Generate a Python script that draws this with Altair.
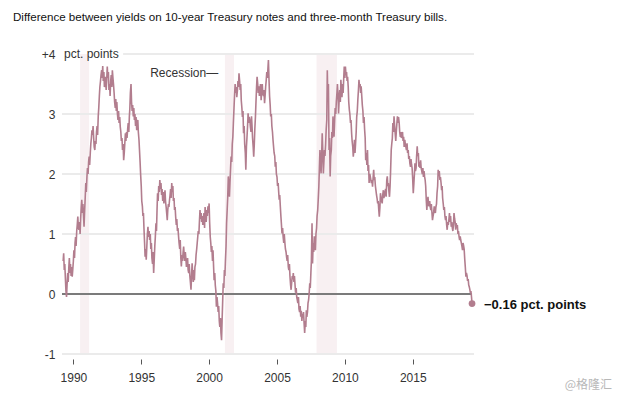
import altair as alt
import pandas as pd

# Spread (10-yr minus 3-month), semi-monthly readings (1st and 15th of each month)
y1989 = [0.55, 0.68, 0.40, 0.50, 0.25, 0.05, -0.05, 0.15, 0.35, 0.20, 0.45, 0.60, 0.35, 0.50, 0.30, 0.45, 0.29, 0.40]
y1990 = [0.55, 0.73, 0.60, 0.85, 0.95, 0.80, 1.05, 1.15, 1.29, 1.10, 1.07, 1.20, 1.00, 1.25, 1.45, 1.57, 1.35, 1.50, 1.30, 1.12, 1.40, 1.60, 1.85, 1.70]
y1991 = [1.95, 2.10, 2.00, 2.20, 2.29, 2.15, 2.35, 2.50, 2.60, 2.73, 2.65, 2.80, 2.60, 2.45, 2.40, 2.55, 2.50, 2.70, 2.80, 2.65, 2.96, 3.10, 3.30, 3.45]
y1992 = [3.55, 3.65, 3.73, 3.60, 3.80, 3.55, 3.70, 3.45, 3.50, 3.62, 3.40, 3.55, 3.79, 3.60, 3.70, 3.40, 3.50, 3.30, 3.55, 3.65, 3.45, 3.73, 3.60, 3.50]
y1993 = [3.35, 3.20, 3.10, 3.25, 3.05, 3.20, 3.00, 2.90, 3.05, 2.85, 2.95, 2.79, 2.70, 2.55, 2.60, 2.40, 2.50, 2.23, 2.35, 2.50, 2.68, 2.55, 2.70, 2.60]
y1994 = [2.75, 2.85, 2.70, 2.95, 3.10, 3.35, 3.50, 3.20, 3.05, 3.15, 2.96, 3.10, 2.90, 3.00, 2.80, 2.95, 2.73, 2.85, 2.90, 2.70, 2.57, 2.40, 2.20, 2.00]
y1995 = [1.80, 1.55, 1.46, 1.30, 1.35, 1.10, 0.85, 0.62, 0.75, 0.57, 0.80, 1.00, 1.12, 0.95, 1.05, 0.90, 1.00, 0.75, 0.85, 0.60, 0.50, 0.70, 0.35, 0.55]
y1996 = [0.80, 0.95, 1.18, 1.05, 1.40, 1.68, 1.55, 1.80, 1.70, 1.90, 1.75, 1.85, 1.65, 1.75, 1.55, 1.70, 1.51, 1.60, 1.73, 1.55, 1.45, 1.35, 1.23, 1.40]
y1997 = [1.50, 1.45, 1.57, 1.65, 1.75, 1.60, 1.85, 1.70, 1.80, 1.55, 1.60, 1.40, 1.45, 1.29, 1.15, 1.25, 1.05, 1.10, 0.96, 0.85, 0.75, 0.90, 0.60, 0.46]
y1998 = [0.65, 0.55, 0.70, 0.79, 0.65, 0.55, 0.70, 0.60, 0.45, 0.51, 0.60, 0.40, 0.35, 0.50, 0.30, 0.20, 0.07, 0.30, 0.51, 0.35, 0.20, 0.40, 0.23, 0.45]
y1999 = [0.50, 0.65, 0.75, 0.85, 0.95, 1.05, 1.00, 1.20, 1.40, 1.25, 1.35, 1.20, 1.30, 1.15, 1.25, 1.35, 1.10, 1.45, 1.30, 1.20, 1.40, 1.30, 1.46, 1.35]
y2000 = [1.51, 1.20, 0.95, 0.85, 0.70, 0.80, 0.55, 0.73, 0.45, 0.23, 0.35, 0.15, 0.05, -0.21, -0.05, -0.15, -0.30, -0.20, -0.45, -0.55, -0.40, -0.65, -0.77, -0.45]
y2001 = [-0.10, 0.18, 0.10, 0.40, 0.30, 0.55, 0.80, 1.18, 1.40, 1.60, 1.96, 1.80, 1.62, 1.85, 2.10, 2.29, 2.20, 2.50, 2.62, 2.85, 3.10, 3.30, 3.50, 3.35]
y2002 = [3.45, 3.28, 3.40, 3.55, 3.45, 3.68, 3.55, 3.40, 3.50, 3.23, 3.10, 2.95, 3.05, 2.68, 2.80, 2.50, 2.35, 2.07, 2.45, 2.60, 2.80, 3.01, 2.85, 2.95]
y2003 = [2.90, 2.79, 2.70, 2.96, 2.80, 2.60, 2.45, 2.29, 2.50, 2.75, 2.96, 3.20, 3.45, 3.62, 3.50, 3.35, 3.46, 3.30, 3.40, 3.50, 3.23, 3.40, 3.50, 3.35]
y2004 = [3.30, 3.40, 3.18, 3.30, 3.45, 3.55, 3.70, 3.60, 3.75, 3.90, 3.55, 3.30, 3.15, 2.96, 3.00, 2.80, 2.70, 2.57, 2.45, 2.35, 2.30, 2.12, 2.20, 2.00]
y2005 = [1.95, 1.80, 1.85, 1.70, 1.57, 1.65, 1.45, 1.30, 1.15, 1.01, 1.10, 0.95, 0.85, 1.00, 0.85, 0.75, 0.70, 0.62, 0.55, 0.65, 0.45, 0.40, 0.50, 0.30]
y2006 = [0.15, 0.07, 0.20, 0.30, 0.25, 0.35, 0.20, 0.30, 0.15, 0.02, 0.10, -0.05, -0.10, -0.15, -0.05, -0.25, -0.30, -0.20, -0.38, -0.28, -0.45, -0.33, -0.40, -0.30]
y2007 = [-0.50, -0.65, -0.45, -0.55, -0.27, -0.38, -0.30, -0.15, -0.10, 0.00, 0.18, 0.10, 0.35, 0.55, 1.18, 0.51, 0.85, 0.70, 0.96, 0.80, 0.73, 1.00, 1.10, 1.30]
y2008 = [1.40, 1.57, 1.80, 2.10, 2.40, 2.20, 2.01, 2.30, 2.68, 2.40, 2.01, 2.20, 2.40, 2.30, 2.50, 2.73, 2.90, 3.73, 3.20, 3.50, 2.40, 2.60, 1.96, 2.30]
y2009 = [2.40, 2.70, 2.60, 2.96, 2.75, 2.62, 2.90, 3.10, 3.00, 3.20, 3.35, 3.50, 3.30, 3.01, 3.25, 3.40, 3.20, 3.57, 3.40, 3.28, 3.50, 3.35, 3.60, 3.79]
y2010 = [3.60, 3.79, 3.65, 3.70, 3.55, 3.62, 3.45, 3.20, 3.07, 3.00, 2.85, 2.90, 2.68, 2.55, 2.45, 2.29, 2.40, 2.57, 2.35, 2.50, 2.70, 2.95, 3.05, 3.23]
y2011 = [3.40, 3.57, 3.45, 3.50, 3.35, 3.46, 3.29, 3.15, 3.05, 2.85, 2.95, 2.75, 2.60, 2.23, 2.35, 2.15, 2.40, 2.05, 2.15, 1.85, 2.00, 1.96, 1.90, 1.85]
y2012 = [1.90, 1.79, 1.95, 2.07, 1.90, 1.95, 1.80, 1.73, 1.65, 1.60, 1.51, 1.55, 1.40, 1.29, 1.45, 1.68, 1.60, 1.55, 1.51, 1.65, 1.73, 1.60, 1.65, 1.70]
y2013 = [1.75, 1.62, 1.90, 1.96, 1.80, 1.85, 1.70, 1.62, 1.80, 2.05, 2.40, 2.50, 2.60, 2.85, 2.70, 2.96, 2.80, 2.68, 2.55, 2.70, 2.85, 2.96, 2.85, 2.95]
y2014 = [2.85, 2.70, 2.62, 2.70, 2.60, 2.65, 2.70, 2.55, 2.62, 2.45, 2.57, 2.50, 2.45, 2.40, 2.51, 2.35, 2.40, 2.25, 2.30, 2.18, 2.12, 2.25, 2.15, 2.10]
y2015 = [1.90, 1.68, 1.85, 2.00, 2.18, 2.05, 2.10, 2.30, 2.46, 2.30, 2.35, 2.12, 2.20, 2.10, 2.23, 2.10, 2.05, 2.00, 2.10, 1.95, 2.05, 1.96, 1.90, 1.80]
y2016 = [1.55, 1.40, 1.55, 1.62, 1.50, 1.46, 1.55, 1.45, 1.40, 1.50, 1.35, 1.23, 1.30, 1.35, 1.46, 1.40, 1.35, 1.45, 1.50, 1.68, 1.80, 2.07, 2.00, 2.05]
y2017 = [1.90, 1.95, 1.85, 1.73, 1.80, 1.60, 1.50, 1.40, 1.45, 1.30, 1.23, 1.30, 1.15, 1.07, 1.20, 1.15, 1.25, 1.35, 1.20, 1.30, 1.12, 1.20, 1.10, 1.05]
y2018 = [1.15, 1.35, 1.25, 1.20, 1.07, 1.18, 1.10, 1.15, 1.00, 1.05, 0.95, 0.90, 0.96, 0.90, 0.85, 0.80, 0.73, 0.85, 0.80, 0.75, 0.57, 0.45, 0.29, 0.35]
y2019 = [0.30, 0.22, 0.25, 0.15, 0.12, 0.08, 0.02, 0.05, -0.05, -0.16]

series_start = "1989-04-01"

rec_start = ["1990-07-01", "2001-03-01", "2007-12-01"]
rec_end = ["1991-03-01", "2001-11-01", "2009-06-01"]

grid_values = [-1, 1, 2, 3]
y_ticks = [-1, 0, 1, 2, 3, 4]
x_ticks = [1990, 1995, 2000, 2005, 2010, 2015]

x_domain = ["1989-03-01", "2019-07-07"]

title_text = "Difference between yields on 10-year Treasury notes and three-month Treasury bills."
end_label = "\u22120.16 pct. points"

# ---------------- build tables ----------------
values = (y1989 + y1990 + y1991 + y1992 + y1993 + y1994 + y1995 + y1996 + y1997
          + y1998 + y1999 + y2000 + y2001 + y2002 + y2003 + y2004 + y2005 + y2006
          + y2007 + y2008 + y2009 + y2010 + y2011 + y2012 + y2013 + y2014 + y2015
          + y2016 + y2017 + y2018 + y2019)
dates = pd.date_range(series_start, periods=len(values), freq="SMS")
df = pd.DataFrame({"date": dates, "spread": values})
last = df.tail(1).copy()
last["label"] = end_label

rec_df = pd.DataFrame({"start": pd.to_datetime(rec_start), "end": pd.to_datetime(rec_end)})
grid_df = pd.DataFrame({"v": grid_values})
top_df = pd.DataFrame({"start": [pd.Timestamp("1993-09-01")], "end": [pd.Timestamp(x_domain[1])], "v": [4]})
zero_df = pd.DataFrame({"start": [pd.Timestamp(x_domain[0])], "end": [dates[-1]], "v": [0]})

tick_dates = [pd.Timestamp(f"{y}-01-01").isoformat() for y in x_ticks]

FONT = "Liberation Sans"
LINE = "#b27d8e"

x_scale = alt.Scale(domain=[pd.Timestamp(d).isoformat() for d in x_domain])
y_scale = alt.Scale(domain=[-1, 4], nice=False, zero=False)

X_AX = alt.Axis(values=tick_dates, format="%Y", title=None, domain=False,
                grid=False, tickSize=5, offset=5, tickColor="#555555",
                tickWidth=1, labelPadding=8, labelFontSize=12,
                labelFont=FONT, labelColor="#333333")
Y_AX = alt.Axis(values=y_ticks, title=None, domain=False, ticks=False,
                grid=False, labelPadding=7, labelFontSize=12, labelFont=FONT,
                labelColor="#333333",
                labelExpr="datum.value == 4 ? '+4' : (datum.value == -1 ? '-1' : datum.label)")


def X(field):
    return alt.X(field, scale=x_scale, axis=X_AX, title=None)


def Y(field):
    return alt.Y(field, scale=y_scale, axis=Y_AX, title=None)


bands = alt.Chart(rec_df).mark_rect(color="#f8f0f2").encode(
    x=X("start:T"), x2="end:T",
)

grid = alt.Chart(grid_df).mark_rule(color="#ebebeb", strokeWidth=2).encode(
    y=Y("v:Q")
)

top_grid = alt.Chart(top_df).mark_rule(color="#ebebeb", strokeWidth=2).encode(
    x=X("start:T"), x2="end:T", y=Y("v:Q"),
)

zero = alt.Chart(zero_df).mark_rule(color="#7b7b7b", strokeWidth=2).encode(
    x=X("start:T"), x2="end:T", y=Y("v:Q"),
)

line = alt.Chart(df).mark_line(color=LINE, strokeWidth=1.6).encode(
    x=X("date:T"), y=Y("spread:Q"),
)

dot = alt.Chart(last).mark_circle(color=LINE, size=45, opacity=1).encode(
    x=X("date:T"), y=Y("spread:Q")
)

end_text = alt.Chart(last).mark_text(align="left", baseline="middle", dx=12, dy=1,
                                     fontWeight="bold", font=FONT, fontSize=13,
                                     color="#111111").encode(
    x=X("date:T"), y=Y("spread:Q"), text="label:N"
)

unit_df = pd.DataFrame({"d": [pd.Timestamp(x_domain[0])], "v": [4], "t": ["pct. points"]})
unit_text = alt.Chart(unit_df).mark_text(align="left", baseline="middle", dx=2, font=FONT,
                                         fontSize=12, color="#333333").encode(
    x=X("d:T"), y=Y("v:Q"), text="t:N"
)

rec_lab_df = pd.DataFrame({"d": [pd.Timestamp("2000-09-01")], "v": [3.68], "t": ["Recession\u2014"]})
rec_text = alt.Chart(rec_lab_df).mark_text(align="right", baseline="middle", font=FONT,
                                           fontSize=12, color="#333333").encode(
    x=X("d:T"), y=Y("v:Q"), text="t:N"
)

wm_df = pd.DataFrame({"t": ["@格隆汇"]})
watermark = alt.Chart(wm_df).mark_text(align="right", baseline="middle",
                                       font="Noto Sans CJK SC", fontSize=12,
                                       color="#b8b8b8").encode(
    x=alt.value(550), y=alt.value(331), text="t:N"
)

chart = alt.layer(bands, grid, top_grid, zero, line, dot, end_text, unit_text, rec_text, watermark).properties(
    width=412, height=300,
    autosize=alt.AutoSizeParams(type="none"),
    padding={"left": 54, "top": 46, "right": 140, "bottom": 38},
    title=alt.Title(title_text, anchor="start", frame="group", dx=-49, offset=24,
                    font=FONT, fontSize=11.6, fontWeight="normal", color="#111111"),
).configure(background="white").configure_view(strokeWidth=0, stroke="transparent")

chart.save("out.html", embed_options={"renderer": "svg", "actions": False})
